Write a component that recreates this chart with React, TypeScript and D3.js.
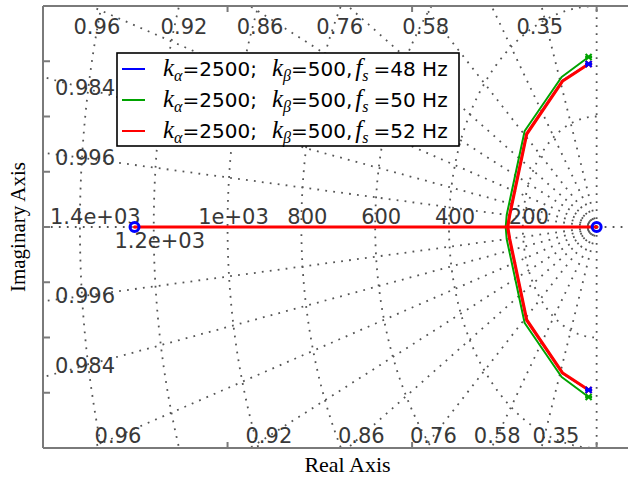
import React from "react";
import * as d3 from "d3";

// s-plane grid: natural frequency circles and damping lines
const wnValues = [200, 400, 600, 800, 1000, 1200, 1400];
const zetaValues = [0.35, 0.58, 0.76, 0.86, 0.92, 0.96, 0.984, 0.996];
// real-axis position (data units) of the damping labels printed along the top edge
const zetaTopLabelRe = [-154, -463, -696, -912, -1118, -1354];

// legend parameters
const kAlpha = 2500;
const kBeta = 500;
const fsValues = [48, 50, 52];
const colors = ["#0000ff", "#00a300", "#ff0000"];

// upper locus branches [real, imag], from open-loop pole down to the real axis
const branch48 = [[-21.7, 295.0], [-92.0, 264.8], [-189.8, 168.0], [-235.8, 21.5], [-241.0, 0]];
const branch50 = [[-21.7, 307.7], [-94.8, 271.5], [-195.0, 173.8], [-243.7, 21.7], [-246.4, 0]];
const branch52 = [[-21.7, 295.0], [-92.1, 264.3], [-189.5, 168.3], [-235.6, 21.7], [-241.0, 0]];
const branches = [branch48, branch50, branch52];

// real-axis part of the locus and the zeros at its ends
const realLocus = [-1252, 0];
const zeros = [-1252, 0];

const xTicks = [-1000, -500, 0];
const yTicks = [-300, -200, -100, 0, 100, 200, 300];

const gridColor = "#555";
const textColor = "#383838";
const dots = "1.8 6.2";

const charW: Record<string, number> = { ".": 0.318, e: 0.615, "+": 0.838 };
const textWidth = (s: string, size: number) =>
  s.split("").reduce((a, c) => a + (charW[c] ?? 0.636), 0) * size;

const fmtWn = (v: number) => {
  if (v < 1000) return String(v);
  const e = Math.floor(Math.log10(v));
  return `${+(v / 10 ** e).toPrecision(2)}e+${String(e).padStart(2, "0")}`;
};

const App = () => {
  const left = 43, top = 6, bottom = 448, right = 652;
  const x = d3.scaleLinear().domain([-1500, 150]).range([left, right]);
  const y = d3.scaleLinear().domain([-400, 400]).range([bottom, top]);
  const y0 = y(0);
  const line = d3.line<number[]>().x(d => x(d[0])).y(d => y(d[1]));

  // damping lines, drawn from the origin outward
  const R = 4000;
  const radial = zetaValues.flatMap(z => {
    const s = Math.sqrt(1 - z * z);
    return [line([[0, 0], [-R * z, R * s]]), line([[0, 0], [-R * z, -R * s]])];
  });
  const axesLines = [
    line([[0, 0], [-R, 0]]), line([[0, 0], [R, 0]]),
    line([[0, 0], [0, R]]), line([[0, 0], [0, -R]]),
  ];
  const circles = wnValues.map(wn =>
    line(d3.range(90, 271, 1).map(a => [wn * Math.cos((a * Math.PI) / 180), wn * Math.sin((a * Math.PI) / 180)]))
  );

  // damping labels
  const fs = 21;
  const labelTopY = top + 21, labelBotY = bottom - 12, labelLeftX = left + 42;
  const zetaLabels: { t: string; cx: number; cy: number }[] = [];
  const bottomLabels: { t: string; cx: number; cy: number }[] = [];
  let topIdx = 0;
  zetaValues.forEach(z => {
    const s = Math.sqrt(1 - z * z);
    const imAtLeft = (-x.invert(left) * s) / z;
    const t = String(z);
    if (imAtLeft < y.invert(top)) {
      const re = x.invert(labelLeftX);
      const im = (-re * s) / z;
      zetaLabels.push({ t, cx: labelLeftX, cy: y(im) });
      zetaLabels.push({ t, cx: labelLeftX, cy: y(-im) });
    } else {
      const im = y.invert(labelBotY);
      bottomLabels.push({ t, cx: x((im * z) / s), cy: labelBotY });
      if (topIdx < zetaTopLabelRe.length) {
        zetaLabels.push({ t, cx: x(zetaTopLabelRe[topIdx]), cy: labelTopY });
        topIdx++;
      }
    }
  });
  // push bottom labels apart so they do not run into each other
  bottomLabels.sort((a, b) => a.cx - b.cx);
  bottomLabels.forEach((l, i) => {
    if (i === 0) return;
    const p = bottomLabels[i - 1];
    const minGap = (textWidth(p.t, fs) + textWidth(l.t, fs)) / 2 + 12;
    if (l.cx - p.cx < minGap) l.cx = p.cx + minGap;
  });
  zetaLabels.push(...bottomLabels);

  // natural frequency labels on the real axis, dropped below if they would collide
  let lastLeft = Infinity;
  const wnLabels = wnValues.map(wn => {
    const t = fmtWn(wn);
    const w = textWidth(t, fs);
    let cx = x(-wn) + 6;
    if (cx - w / 2 < left + 7) cx = left + 7 + w / 2;
    let below = false;
    if (cx + w / 2 > lastLeft - 2) below = true;
    else lastLeft = cx - w / 2;
    return { t, cx, by: below ? y0 + 21 : y0 - 3 };
  });

  const xMark = (px: number, py: number, c: string, k: string) => (
    <g key={k} stroke={c} strokeWidth={2.2}>
      <line x1={px - 3} y1={py - 3} x2={px + 3} y2={py + 3} />
      <line x1={px - 3} y1={py + 3} x2={px + 3} y2={py - 3} />
      <line x1={px - 3.5} y1={py} x2={px + 3.5} y2={py} />
    </g>
  );

  const legX = 117, legY = 53, rowH = 31;
  const serifIt = { fontFamily: "Liberation Serif", fontStyle: "italic" } as const;

  return (
    <svg width={628} height={480} style={{ position: "absolute", left: 0, top: 0, background: "#fff" }}>
      <defs>
        <clipPath id="plot">
          <rect x={left} y={top} width={right - left} height={bottom - top} />
        </clipPath>
      </defs>

      <g clipPath="url(#plot)" fill="none" stroke={gridColor} strokeWidth={1.8} strokeDasharray={dots}>
        {axesLines.map((d, i) => <path key={"a" + i} d={d ?? ""} />)}
        {radial.map((d, i) => <path key={"r" + i} d={d ?? ""} />)}
        {circles.map((d, i) => <path key={"c" + i} d={d ?? ""} />)}
      </g>

      <g fontFamily="DejaVu Sans" fontSize={fs} fill={textColor}>
        {zetaLabels.map((l, i) => (
          <text key={"z" + i} x={l.cx} y={l.cy} textAnchor="middle" dominantBaseline="central">{l.t}</text>
        ))}
        {wnLabels.map((l, i) => (
          <text key={"w" + i} x={l.cx} y={l.by} textAnchor="middle">{l.t}</text>
        ))}
      </g>

      {/* locus */}
      <g clipPath="url(#plot)" fill="none" strokeLinejoin="round">
        {branches.map((b, i) => (
          <g key={"b" + i} stroke={colors[i]} strokeWidth={i === 2 ? 3.2 : 2}>
            <path d={line(b) ?? ""} />
            <path d={line(b.map(p => [p[0], -p[1]])) ?? ""} />
          </g>
        ))}
        <path d={line(realLocus.map(r => [r, 0])) ?? ""} stroke={colors[2]} strokeWidth={3.2} />
      </g>
      {[2, 0, 1].map(i => {
        const p = branches[i][0];
        return (
          <g key={"m" + i}>
            {xMark(x(p[0]), y(p[1]), colors[i], "u")}
            {xMark(x(p[0]), y(-p[1]), colors[i], "d")}
          </g>
        );
      })}
      {zeros.map((z, i) => (
        <g key={"o" + i}>
          <circle cx={x(z)} cy={y0} r={4.5} fill="none" stroke={colors[0]} strokeWidth={3} />
          <circle cx={x(z)} cy={y0} r={1.6} fill={colors[2]} />
        </g>
      ))}

      {/* axes frame and ticks */}
      <g stroke="#7a7a7a" strokeWidth={2}>
        <line x1={left} y1={top} x2={628} y2={top} />
        <line x1={left} y1={bottom} x2={628} y2={bottom} />
        <line x1={left} y1={top} x2={left} y2={bottom} />
        {xTicks.map(t => (
          <g key={"xt" + t}>
            <line x1={x(t)} y1={bottom} x2={x(t)} y2={bottom - 6} />
            <line x1={x(t)} y1={top} x2={x(t)} y2={top + 6} />
          </g>
        ))}
        {yTicks.map(t => (
          <line key={"yt" + t} x1={left} y1={y(t)} x2={left + 7} y2={y(t)} />
        ))}
      </g>

      <text x={(left + right) / 2} y={472} textAnchor="middle" fontFamily="Liberation Serif" fontSize={22} fill="#000">
        Real Axis
      </text>
      <text transform={`translate(18,${(top + bottom) / 2}) rotate(-90)`} textAnchor="middle" dominantBaseline="central"
        fontFamily="Liberation Serif" fontSize={21} fill="#000">
        Imaginary Axis
      </text>

      {/* legend */}
      <rect x={legX} y={legY} width={342} height={93} fill="#fff" stroke="#000" strokeWidth={1.6} />
      {fsValues.map((f, i) => {
        const cy = legY + 16 + i * rowH;
        return (
          <g key={"l" + i}>
            <line x1={legX + 5} x2={legX + 28} y1={cy} y2={cy} stroke={colors[i]} strokeWidth={2} />
            <text x={legX + 46} y={cy + 7} fontFamily="DejaVu Sans" fontSize={20} fill="#000">
              <tspan {...serifIt} fontSize={25}>k</tspan>
              <tspan {...serifIt} fontSize={16} dy={5}>α</tspan>
              <tspan dy={-5}>={kAlpha};</tspan>
              <tspan dx={15} {...serifIt} fontSize={25}>k</tspan>
              <tspan {...serifIt} fontSize={16} dy={5}>β</tspan>
              <tspan dy={-5}>={kBeta},</tspan>
              <tspan dx={3} {...serifIt} fontSize={25}>f</tspan>
              <tspan {...serifIt} fontSize={16} dy={5}>s</tspan>
              <tspan dy={-5} dx={5}>={f} Hz</tspan>
            </text>
          </g>
        );
      })}
    </svg>
  );
};

export default App;
